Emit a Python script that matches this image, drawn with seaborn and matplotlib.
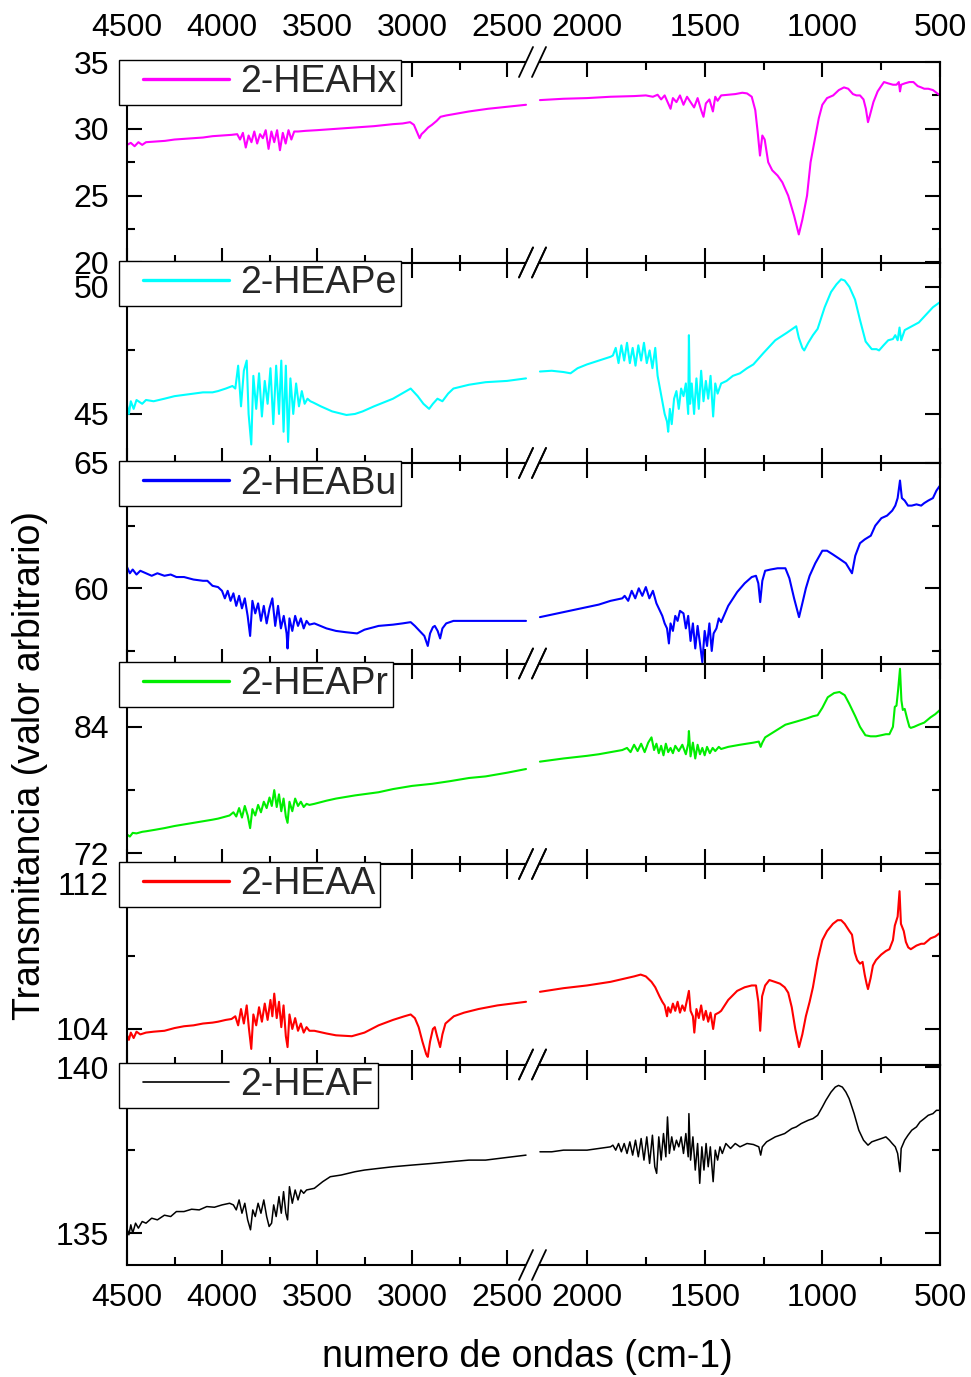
import numpy as np
import pandas as pd
import matplotlib
matplotlib.use("Agg")
import matplotlib.pyplot as plt
import seaborn as sns
from matplotlib.ticker import MultipleLocator, FixedLocator
from matplotlib.legend_handler import HandlerLine2D
from matplotlib.lines import Line2D
from matplotlib.patches import Rectangle

# ---------------- data (wavenumber cm-1, transmittance) ----------------
SERIES_NAMES = ["2-HEAHx", "2-HEAPe", "2-HEABu", "2-HEAPr", "2-HEAA", "2-HEAF"]
SERIES_COLORS = ["#FF00FF", "#00FFFF", "#0000FF", "#00EE00", "#FF0000", "#000000"]

HEAHX_LEFT = [(4500, 28.8), (4480, 28.95), (4460, 28.7), (4440, 29.0), (4420, 28.8), (4400, 29.0),
              (4350, 29.05), (4300, 29.1), (4250, 29.2), (4200, 29.25), (4150, 29.3), (4100, 29.35),
              (4050, 29.45), (4000, 29.5), (3950, 29.55), (3920, 29.6), (3905, 29.2), (3890, 29.7),
              (3875, 28.6), (3860, 29.5), (3845, 29.0), (3830, 29.8), (3815, 28.9), (3800, 29.6),
              (3785, 29.3), (3770, 29.9), (3755, 28.5), (3740, 29.8), (3725, 29.0), (3710, 29.9),
              (3695, 28.4), (3680, 29.7), (3665, 28.9), (3650, 29.9), (3635, 29.2), (3620, 29.8),
              (3600, 29.8), (3560, 29.85), (3500, 29.9), (3400, 30.0), (3300, 30.1), (3200, 30.2),
              (3100, 30.35), (3050, 30.4), (3010, 30.5), (2990, 30.3), (2975, 29.8), (2960, 29.3),
              (2950, 29.6), (2935, 29.8), (2915, 30.1), (2895, 30.3), (2870, 30.6), (2850, 30.9),
              (2820, 31.0), (2780, 31.1), (2700, 31.3), (2600, 31.5), (2500, 31.65), (2400, 31.8)]
HEAHX_RIGHT = [(2200, 32.15), (2100, 32.25), (2000, 32.3), (1900, 32.4), (1800, 32.45), (1750, 32.5),
               (1720, 32.4), (1700, 32.55), (1685, 32.2), (1670, 32.5), (1655, 31.9), (1645, 31.5),
               (1635, 32.3), (1620, 32.0), (1605, 32.5), (1590, 31.8), (1575, 32.4), (1560, 32.0),
               (1545, 31.6), (1530, 32.3), (1515, 31.4), (1505, 30.9), (1495, 31.9), (1480, 32.2),
               (1465, 31.3), (1455, 32.4), (1445, 32.1), (1430, 32.5), (1400, 32.55), (1370, 32.6),
               (1340, 32.7), (1320, 32.65), (1300, 32.4), (1285, 31.4), (1275, 29.8), (1265, 28.0),
               (1255, 29.5), (1245, 29.2), (1230, 27.5), (1213, 26.9), (1190, 26.5), (1170, 26.0),
               (1145, 25.0), (1120, 23.5), (1100, 22.1), (1085, 23.2), (1065, 25.0), (1050, 27.5),
               (1031, 29.3), (1015, 30.8), (1000, 31.8), (980, 32.3), (954, 32.5), (930, 32.9),
               (908, 33.1), (890, 33.0), (870, 32.6), (855, 32.5), (840, 32.5), (825, 32.2),
               (815, 31.5), (806, 30.5), (798, 31.0), (783, 32.0), (765, 32.8), (750, 33.2),
               (738, 33.5), (720, 33.4), (700, 33.3), (685, 33.3), (675, 33.5), (670, 32.8),
               (665, 33.3), (650, 33.4), (630, 33.5), (613, 33.5), (595, 33.2), (580, 33.1),
               (567, 33.0), (550, 33.0), (530, 32.9), (515, 32.7), (500, 32.5)]

HEAPE_LEFT = [(4500, 45.35), (4490, 45.0), (4480, 45.5), (4465, 45.2), (4450, 45.55), (4420, 45.4),
              (4400, 45.55), (4360, 45.5), (4303, 45.6), (4250, 45.7), (4200, 45.75), (4150, 45.8),
              (4100, 45.85), (4050, 45.85), (4021, 45.9), (3980, 46.0), (3945, 46.1),
              (3930, 46.0), (3915, 46.9), (3900, 45.3), (3885, 46.7), (3870, 47.1), (3860, 45.0),
              (3846, 43.8), (3835, 46.5), (3820, 45.2), (3805, 46.6), (3790, 44.9), (3775, 46.3),
              (3760, 45.4), (3745, 46.8), (3730, 44.6), (3715, 46.9), (3700, 45.0), (3688, 47.1),
              (3676, 44.3), (3664, 46.9), (3652, 43.9), (3640, 46.4), (3625, 45.0), (3610, 46.2),
              (3595, 45.3), (3580, 45.9), (3565, 45.4), (3550, 45.6), (3535, 45.5), (3520, 45.45),
              (3480, 45.3), (3420, 45.1), (3345, 44.96), (3300, 45.0), (3260, 45.1), (3200, 45.3),
              (3100, 45.6), (3007, 46.0), (2970, 45.7), (2940, 45.4), (2910, 45.2), (2890, 45.4),
              (2866, 45.6), (2840, 45.5), (2810, 45.8), (2782, 46.0), (2700, 46.15), (2613, 46.25),
              (2500, 46.3), (2400, 46.4)]
HEAPE_RIGHT = [(2200, 46.67), (2150, 46.7), (2100, 46.65), (2070, 46.6), (2040, 46.8), (2000, 46.95),
               (1950, 47.1), (1900, 47.25), (1890, 47.3), (1878, 47.6), (1866, 47.0), (1854, 47.7),
               (1842, 47.1), (1830, 47.8), (1818, 47.0), (1806, 47.6), (1794, 46.9), (1782, 47.7),
               (1770, 47.1), (1758, 47.8), (1746, 47.0), (1734, 47.5), (1722, 46.8), (1710, 47.6),
               (1700, 46.5), (1690, 46.0), (1680, 45.5), (1670, 45.0), (1660, 44.7), (1655, 44.3),
               (1648, 45.2), (1640, 44.6), (1630, 45.6), (1620, 45.9), (1610, 45.2), (1600, 46.0),
               (1590, 45.7), (1580, 46.2), (1570, 45.0), (1567, 48.1), (1562, 45.4), (1555, 46.2),
               (1545, 45.0), (1535, 46.4), (1525, 45.2), (1515, 46.7), (1505, 45.5), (1495, 46.3),
               (1485, 45.6), (1475, 46.5), (1464, 44.9), (1455, 46.2), (1445, 45.8), (1430, 46.2),
               (1407, 46.3), (1380, 46.5), (1350, 46.6), (1320, 46.8), (1293, 46.95), (1250, 47.4),
               (1200, 47.9), (1150, 48.2), (1111, 48.45), (1100, 48.0), (1085, 47.6), (1077, 47.5),
               (1060, 47.8), (1040, 48.1), (1020, 48.35), (990, 49.2), (963, 49.8), (940, 50.1),
               (920, 50.3), (905, 50.25), (885, 50.0), (861, 49.5), (840, 48.7), (816, 47.85),
               (790, 47.55), (770, 47.55), (759, 47.5), (740, 47.7), (720, 47.9), (700, 47.95),
               (690, 48.1), (680, 47.9), (672, 48.4), (665, 47.9), (650, 48.3), (630, 48.4),
               (610, 48.5), (590, 48.6), (570, 48.8), (550, 49.0), (530, 49.2), (515, 49.3), (500, 49.4)]

HEABU_LEFT = [(4500, 60.85), (4485, 60.6), (4470, 60.75), (4450, 60.55), (4430, 60.7), (4400, 60.6),
              (4370, 60.5), (4340, 60.6), (4303, 60.5), (4270, 60.55), (4240, 60.45), (4200, 60.45),
              (4150, 60.35), (4100, 60.3), (4077, 60.3), (4050, 60.1), (4021, 60.05),
              (4000, 59.9), (3985, 59.6), (3970, 59.9), (3955, 59.5), (3940, 59.8), (3925, 59.3),
              (3910, 59.7), (3895, 59.2), (3880, 59.6), (3865, 58.9), (3852, 58.1), (3840, 59.5),
              (3825, 59.0), (3810, 59.4), (3795, 58.7), (3780, 59.3), (3765, 58.6), (3750, 59.2),
              (3735, 59.6), (3720, 58.5), (3705, 59.3), (3690, 58.4), (3675, 58.9), (3660, 58.2),
              (3655, 57.6), (3645, 58.8), (3630, 58.3), (3615, 58.9), (3600, 58.5), (3585, 58.8),
              (3570, 58.4), (3555, 58.7), (3540, 58.55), (3514, 58.6), (3450, 58.4), (3400, 58.3),
              (3350, 58.25), (3289, 58.2), (3250, 58.35), (3200, 58.45), (3176, 58.5), (3100, 58.55),
              (3050, 58.6), (3007, 58.65), (2985, 58.5), (2960, 58.3), (2935, 58.1), (2917, 57.7),
              (2905, 58.2), (2890, 58.45), (2880, 58.5), (2865, 58.3), (2852, 58.0), (2840, 58.4),
              (2820, 58.6), (2782, 58.7), (2700, 58.7), (2613, 58.7), (2500, 58.7), (2400, 58.7)]
HEABU_RIGHT = [(2200, 58.85), (2100, 59.05), (2000, 59.25), (1950, 59.35), (1900, 59.5), (1850, 59.6),
               (1840, 59.7), (1825, 59.5), (1810, 59.9), (1795, 59.6), (1780, 60.0), (1765, 59.7),
               (1750, 60.05), (1735, 59.6), (1720, 59.9), (1705, 59.4), (1695, 59.2), (1680, 58.9),
               (1670, 58.6), (1660, 58.4), (1652, 57.8), (1645, 58.6), (1635, 58.3), (1625, 58.9),
               (1615, 58.7), (1605, 59.1), (1590, 59.0), (1580, 58.4), (1570, 58.9), (1560, 57.9),
               (1550, 58.6), (1540, 57.6), (1530, 58.5), (1520, 57.8), (1510, 57.05), (1500, 58.3),
               (1490, 57.7), (1480, 58.6), (1470, 57.5), (1462, 58.2), (1450, 58.4), (1440, 58.8),
               (1430, 58.65), (1400, 59.3), (1362, 59.85), (1330, 60.2), (1300, 60.45), (1282, 60.5),
               (1272, 60.2), (1264, 59.45), (1255, 60.3), (1243, 60.7), (1220, 60.75), (1190, 60.8),
               (1157, 60.8), (1140, 60.4), (1120, 59.6), (1099, 58.85), (1085, 59.4), (1070, 60.0),
               (1054, 60.5), (1030, 61.0), (1000, 61.5), (980, 61.5), (955, 61.35), (931, 61.2),
               (900, 61.0), (874, 60.6), (860, 61.3), (840, 61.8), (820, 61.95), (794, 62.1),
               (775, 62.5), (749, 62.8), (725, 62.9), (703, 63.1), (690, 63.3), (680, 63.6),
               (670, 64.3), (662, 63.6), (650, 63.5), (636, 63.3), (620, 63.3), (600, 63.35),
               (580, 63.3), (567, 63.4), (550, 63.5), (530, 63.6), (515, 63.9), (500, 64.1)]

HEAPR_LEFT = [(4500, 73.8), (4485, 73.6), (4470, 73.95), (4450, 73.9), (4420, 74.05), (4400, 74.1),
              (4350, 74.25), (4303, 74.4), (4250, 74.6), (4200, 74.75), (4150, 74.9), (4100, 75.05),
              (4050, 75.2), (4021, 75.3), (3990, 75.45), (3960, 75.6),
              (3940, 75.9), (3925, 75.5), (3910, 76.3), (3895, 75.4), (3880, 76.5), (3865, 75.6),
              (3852, 74.4), (3840, 76.2), (3825, 75.6), (3810, 76.6), (3795, 75.9), (3780, 76.9),
              (3765, 76.3), (3750, 77.3), (3738, 76.5), (3725, 78.0), (3712, 76.4), (3700, 77.6),
              (3688, 76.0), (3676, 77.2), (3664, 75.5), (3655, 74.9), (3645, 76.9), (3630, 76.0),
              (3615, 77.2), (3600, 76.5), (3585, 76.9), (3570, 76.4), (3555, 76.7), (3540, 76.6),
              (3514, 76.7), (3450, 77.0), (3400, 77.2), (3300, 77.5), (3176, 77.8), (3100, 78.1),
              (3000, 78.4), (2894, 78.6), (2800, 78.85), (2700, 79.15), (2613, 79.3), (2500, 79.65),
              (2400, 80.0)]
HEAPR_RIGHT = [(2200, 80.7), (2100, 81.0), (2000, 81.25), (1950, 81.4), (1900, 81.6), (1850, 81.8),
               (1830, 82.0), (1815, 81.6), (1800, 82.3), (1785, 81.7), (1770, 82.4), (1755, 81.6),
               (1740, 82.5), (1726, 83.0), (1715, 81.8), (1705, 82.4), (1695, 81.5), (1685, 82.2),
               (1675, 81.3), (1665, 82.4), (1655, 81.6), (1645, 82.0), (1635, 81.5), (1625, 82.2),
               (1610, 81.7), (1595, 82.3), (1580, 81.4), (1570, 82.4), (1567, 83.6), (1560, 81.2),
               (1550, 82.5), (1540, 81.0), (1530, 82.3), (1520, 81.4), (1510, 82.0), (1500, 81.3),
               (1490, 82.1), (1478, 81.5), (1466, 82.0), (1455, 81.7), (1440, 82.1), (1430, 81.9),
               (1400, 82.1), (1350, 82.3), (1293, 82.5), (1270, 82.6), (1262, 82.1), (1255, 82.5),
               (1243, 83.0), (1200, 83.6), (1157, 84.2), (1110, 84.5), (1065, 84.8), (1040, 85.0),
               (1020, 85.1), (1000, 85.8), (977, 86.8), (950, 87.2), (927, 87.3), (905, 87.0),
               (886, 86.2), (860, 85.0), (840, 84.0), (817, 83.2), (795, 83.1), (772, 83.1),
               (750, 83.2), (730, 83.3), (715, 83.3), (700, 84.0), (692, 85.9), (685, 86.0),
               (678, 87.5), (670, 89.5), (664, 86.5), (658, 85.6), (650, 85.7), (640, 84.8),
               (630, 84.0), (624, 83.9), (610, 84.0), (590, 84.2), (567, 84.4), (540, 84.9),
               (520, 85.2), (500, 85.6)]

HEAA_LEFT = [(4500, 103.66), (4490, 103.4), (4480, 103.8), (4465, 103.5), (4450, 103.85), (4430, 103.7),
             (4400, 103.8), (4360, 103.85), (4303, 103.9), (4250, 104.05), (4200, 104.15), (4150, 104.2),
             (4100, 104.3), (4050, 104.35), (4021, 104.4), (3980, 104.5), (3950, 104.55),
             (3930, 104.7), (3915, 104.2), (3900, 105.1), (3885, 104.3), (3870, 105.3), (3858, 104.0),
             (3846, 102.9), (3835, 104.8), (3820, 104.2), (3805, 105.2), (3790, 104.4), (3775, 105.4),
             (3760, 104.5), (3745, 105.6), (3735, 104.7), (3725, 105.95), (3712, 104.6), (3700, 105.5),
             (3688, 104.1), (3676, 105.3), (3664, 103.6), (3655, 103.0), (3645, 104.8), (3630, 104.0),
             (3615, 104.6), (3600, 103.9), (3585, 104.3), (3570, 103.8), (3555, 104.1), (3540, 103.9),
             (3514, 103.9), (3450, 103.75), (3400, 103.65), (3317, 103.6), (3250, 103.8), (3176, 104.2),
             (3100, 104.5), (3040, 104.7), (3007, 104.8), (2985, 104.6), (2965, 104.1), (2945, 103.3),
             (2925, 102.6), (2917, 102.46), (2905, 103.3), (2890, 104.0), (2880, 104.1), (2868, 103.6),
             (2852, 103.0), (2840, 103.7), (2824, 104.3), (2780, 104.7), (2726, 104.9), (2650, 105.1),
             (2550, 105.3), (2400, 105.5)]
HEAA_RIGHT = [(2200, 106.05), (2100, 106.25), (2000, 106.4), (1900, 106.6), (1850, 106.75), (1800, 106.9),
              (1772, 107.0), (1750, 106.9), (1726, 106.6), (1710, 106.3), (1692, 105.8), (1680, 105.5),
              (1670, 105.3), (1660, 104.7), (1655, 105.2), (1645, 104.9), (1635, 105.4), (1625, 105.0),
              (1615, 105.5), (1605, 104.9), (1595, 105.3), (1585, 105.0), (1575, 105.6), (1567, 106.1),
              (1560, 105.0), (1550, 104.7), (1544, 103.8), (1535, 105.1), (1525, 104.6), (1515, 105.3),
              (1505, 104.5), (1495, 105.0), (1485, 104.4), (1475, 104.9), (1464, 104.0), (1455, 104.8),
              (1440, 104.9), (1430, 105.0), (1400, 105.6), (1362, 106.1), (1330, 106.3), (1300, 106.4),
              (1282, 106.4), (1272, 105.5), (1264, 103.9), (1256, 105.8), (1243, 106.4), (1225, 106.7),
              (1202, 106.6), (1180, 106.5), (1160, 106.3), (1145, 106.0), (1130, 105.2), (1115, 104.0),
              (1099, 103.0), (1085, 103.7), (1070, 104.7), (1054, 105.5), (1040, 106.3), (1020, 107.8),
              (1000, 108.9), (980, 109.4), (955, 109.8), (935, 110.0), (920, 110.0), (905, 109.8),
              (885, 109.4), (874, 109.2), (862, 108.2), (852, 107.8), (840, 107.6), (829, 107.7),
              (820, 107.0), (812, 106.5), (806, 106.2), (795, 106.8), (785, 107.5), (772, 107.8),
              (750, 108.1), (730, 108.3), (715, 108.4), (700, 108.9), (692, 109.7), (680, 110.2),
              (672, 111.6), (666, 109.8), (660, 109.6), (654, 109.4), (645, 108.8), (635, 108.5),
              (624, 108.4), (600, 108.6), (580, 108.7), (567, 108.7), (540, 109.0), (520, 109.1),
              (500, 109.3)]

HEAF_LEFT = [(4500, 135.14), (4490, 134.95), (4480, 135.25), (4470, 135.0), (4455, 135.3), (4440, 135.15),
             (4420, 135.35), (4400, 135.3), (4370, 135.45), (4340, 135.4), (4303, 135.54), (4270, 135.5),
             (4240, 135.65), (4200, 135.65), (4160, 135.72), (4120, 135.7), (4080, 135.8), (4040, 135.78),
             (4000, 135.85), (3960, 135.9), (3940, 135.85), (3925, 135.7), (3910, 136.0), (3895, 135.6),
             (3880, 135.9), (3865, 135.4), (3850, 135.1), (3838, 135.7), (3825, 135.5), (3810, 135.9),
             (3795, 135.6), (3780, 136.0), (3765, 135.5), (3752, 135.2), (3739, 135.3), (3728, 135.85),
             (3715, 135.5), (3700, 136.1), (3688, 135.6), (3676, 136.25), (3664, 135.6), (3655, 135.4),
             (3645, 136.4), (3630, 135.9), (3615, 136.3), (3600, 136.0), (3585, 136.3), (3570, 136.2),
             (3555, 136.3), (3514, 136.35), (3470, 136.55), (3430, 136.7), (3373, 136.75), (3300, 136.85),
             (3250, 136.9), (3176, 136.95), (3100, 137.0), (3000, 137.05), (2894, 137.1), (2800, 137.15),
             (2700, 137.2), (2613, 137.2), (2500, 137.28), (2400, 137.35)]
HEAF_RIGHT = [(2200, 137.45), (2150, 137.45), (2100, 137.5), (2050, 137.5), (2000, 137.5), (1950, 137.55),
              (1900, 137.6), (1890, 137.65), (1878, 137.5), (1866, 137.7), (1854, 137.45), (1842, 137.7),
              (1830, 137.4), (1818, 137.75), (1806, 137.35), (1794, 137.8), (1782, 137.3), (1770, 137.85),
              (1758, 137.2), (1746, 137.9), (1734, 137.1), (1722, 137.95), (1712, 137.0), (1704, 136.8),
              (1695, 137.9), (1685, 137.2), (1675, 138.0), (1665, 137.3), (1658, 138.5), (1650, 137.4),
              (1640, 137.9), (1630, 137.5), (1620, 137.8), (1610, 137.6), (1600, 137.9), (1590, 137.4),
              (1580, 138.0), (1570, 137.3), (1567, 138.6), (1560, 137.2), (1550, 137.9), (1540, 136.9),
              (1530, 137.7), (1521, 136.5), (1512, 137.6), (1503, 136.9), (1494, 137.7), (1485, 137.0),
              (1476, 137.6), (1464, 136.55), (1455, 137.5), (1445, 137.2), (1435, 137.6), (1425, 137.4),
              (1410, 137.7), (1390, 137.55), (1370, 137.7), (1350, 137.6), (1320, 137.7), (1293, 137.67),
              (1270, 137.6), (1262, 137.35), (1255, 137.6), (1237, 137.75), (1200, 137.9), (1160, 138.0),
              (1130, 138.15), (1111, 138.2), (1090, 138.3), (1060, 138.4), (1040, 138.45), (1020, 138.55),
              (1000, 138.8), (985, 139.0), (963, 139.25), (945, 139.4), (931, 139.45), (915, 139.4),
              (900, 139.25), (886, 139.05), (865, 138.6), (845, 138.1), (825, 137.8), (806, 137.65),
              (790, 137.75), (770, 137.8), (749, 137.85), (730, 137.9), (715, 137.8), (703, 137.7),
              (690, 137.6), (680, 137.4), (670, 136.85), (665, 137.55), (650, 137.8), (636, 137.95),
              (620, 138.1), (600, 138.2), (585, 138.35), (567, 138.45), (550, 138.55), (530, 138.6),
              (515, 138.7), (500, 138.7)]

SEGMENTS_LEFT = [HEAHX_LEFT, HEAPE_LEFT, HEABU_LEFT, HEAPR_LEFT, HEAA_LEFT, HEAF_LEFT]
SEGMENTS_RIGHT = [HEAHX_RIGHT, HEAPE_RIGHT, HEABU_RIGHT, HEAPR_RIGHT, HEAA_RIGHT, HEAF_RIGHT]

Y_LIMITS = [(20, 35), (43.07, 50.96), (57, 65), (71.0, 90.0), (102.04, 113.1), (134.04, 140.08)]
Y_MAJOR = [[20, 25, 30, 35], [45, 50], [60, 65], [72, 84], [104, 112], [135, 140]]
Y_MINOR = [[22.5, 27.5, 32.5], [47.5], [57.5, 62.5], [78], [108], [137.5]]

X_LEFT_LIM = (4500, 2363.2)
X_RIGHT_LIM = (2229.5, 500)

# ---------------- style ----------------
sns.set_theme(style="ticks")
plt.rcParams['font.family'] = ['Liberation Sans', 'DejaVu Sans']
plt.rcParams['axes.linewidth'] = 1.5
plt.rcParams['axes.edgecolor'] = 'black'
plt.rcParams['xtick.color'] = 'black'
plt.rcParams['ytick.color'] = 'black'

W, H = 971, 1377
fig = plt.figure(figsize=(W / 100, H / 100), dpi=100)
fig.patch.set_facecolor('white')

AX_L, AX_R, AX_T, AX_B, JUNC = 127, 940, 62, 1265, 533
gs = fig.add_gridspec(6, 2, left=AX_L / W, right=AX_R / W, top=1 - AX_T / H, bottom=1 - AX_B / H,
                      hspace=0, wspace=0, width_ratios=[JUNC - AX_L, AX_R - JUNC])


class PadLineHandler(HandlerLine2D):
    def __init__(self, lead, lw, **kw):
        super().__init__(**kw)
        self.lead = lead
        self.lw = lw

    def create_artists(self, legend, orig_handle, xdescent, ydescent, width, height, fontsize, trans):
        arts = super().create_artists(legend, orig_handle, xdescent, ydescent, width, height,
                                      fontsize, trans)
        for a in arts:
            xd = np.asarray(a.get_xdata(), float)
            if xd.size > 1:
                a.set_xdata(np.linspace(xd[0] + self.lead * fontsize, xd[-1], xd.size))
            a.set_linewidth(self.lw)
        return arts


LEG_FS = 27
rows = []
for i, name in enumerate(SERIES_NAMES):
    color = SERIES_COLORS[i]
    lw = 1.1 if color == "#000000" else 1.5
    axl = fig.add_subplot(gs[i, 0])
    axr = fig.add_subplot(gs[i, 1])
    dfl = pd.DataFrame(SEGMENTS_LEFT[i], columns=["wn", "T"])
    dfr = pd.DataFrame(SEGMENTS_RIGHT[i], columns=["wn", "T"])
    sns.lineplot(data=dfl, x="wn", y="T", ax=axl, color=color, lw=lw, sort=False,
                 estimator=None, legend=False)
    sns.lineplot(data=dfr, x="wn", y="T", ax=axr, color=color, lw=lw, sort=False,
                 estimator=None, legend=False)
    axl.set_xlim(*X_LEFT_LIM)
    axr.set_xlim(*X_RIGHT_LIM)
    for ax in (axl, axr):
        ax.set_ylim(*Y_LIMITS[i])
        ax.set_xlabel("")
        ax.set_ylabel("")
        ax.set_facecolor("white")
        ax.xaxis.set_major_locator(MultipleLocator(500))
        ax.xaxis.set_minor_locator(MultipleLocator(250))
        ax.yaxis.set_major_locator(FixedLocator(Y_MAJOR[i]))
        ax.yaxis.set_minor_locator(FixedLocator(Y_MINOR[i]))
        ax.tick_params(which='both', direction='in', width=1.5, labelsize=23, colors='black')
        ax.tick_params(which='major', length=11)
        ax.tick_params(which='minor', length=6)
        ax.tick_params(axis='x', which='both', top=True, bottom=True,
                       labeltop=(i == 0), labelbottom=(i == 5),
                       pad=(14 if i == 0 else 13))
        for sp in ax.spines.values():
            sp.set_linewidth(1.5)
            sp.set_color('black')
    axl.spines['right'].set_visible(False)
    axr.spines['left'].set_visible(False)
    axl.tick_params(axis='y', which='both', left=True, right=False, labelleft=True, pad=13)
    axr.tick_params(axis='y', which='both', left=False, right=True, labelleft=False,
                    labelright=False)

    line = axl.get_lines()[0]
    leg_lw = 1.2 if color == "#000000" else 2.4
    ax_w_px = JUNC - AX_L
    ax_h_px = (AX_B - AX_T) / 6
    leg = axl.legend([line], [name], loc='upper left',
                     bbox_to_anchor=(-8 / ax_w_px, 1 + 2 / ax_h_px), borderaxespad=0,
                     fontsize=LEG_FS, frameon=True, fancybox=False, framealpha=1,
                     borderpad=0.12, handlelength=2.8, handletextpad=0.32,
                     handler_map={line: PadLineHandler(0.53, leg_lw)})
    leg.get_frame().set_edgecolor('black')
    leg.get_frame().set_linewidth(1.0)
    leg.get_frame().set_facecolor('white')
    leg.set_zorder(10)
    rows.append((axl, axr))

# axis break marks
for axl, axr in rows:
    pos = axl.get_position()
    j = pos.x1
    for yy in (pos.y0, pos.y1):
        fig.add_artist(Rectangle((j - 7 / W, yy - 2.5 / H), 13 / W, 5 / H, transform=fig.transFigure,
                                 facecolor='white', edgecolor='none', zorder=5))
        for cx in (j - 7 / W, j + 6 / W):
            fig.add_artist(Line2D([cx - 7 / W, cx + 7 / W], [yy - 15 / H, yy + 15 / H],
                                  transform=fig.transFigure, color='black', lw=1.3, zorder=6))

fig.text(30 / W, 1 - 765 / H, "Transmitancia (valor arbitrario)", rotation=90,
         ha='center', va='center', fontsize=27, color='black')
fig.text(527 / W, 1 - 1357 / H, "numero de ondas (cm-1)", ha='center', va='center',
         fontsize=27, color='black')

fig.savefig("out.png", dpi=100, facecolor='white')
